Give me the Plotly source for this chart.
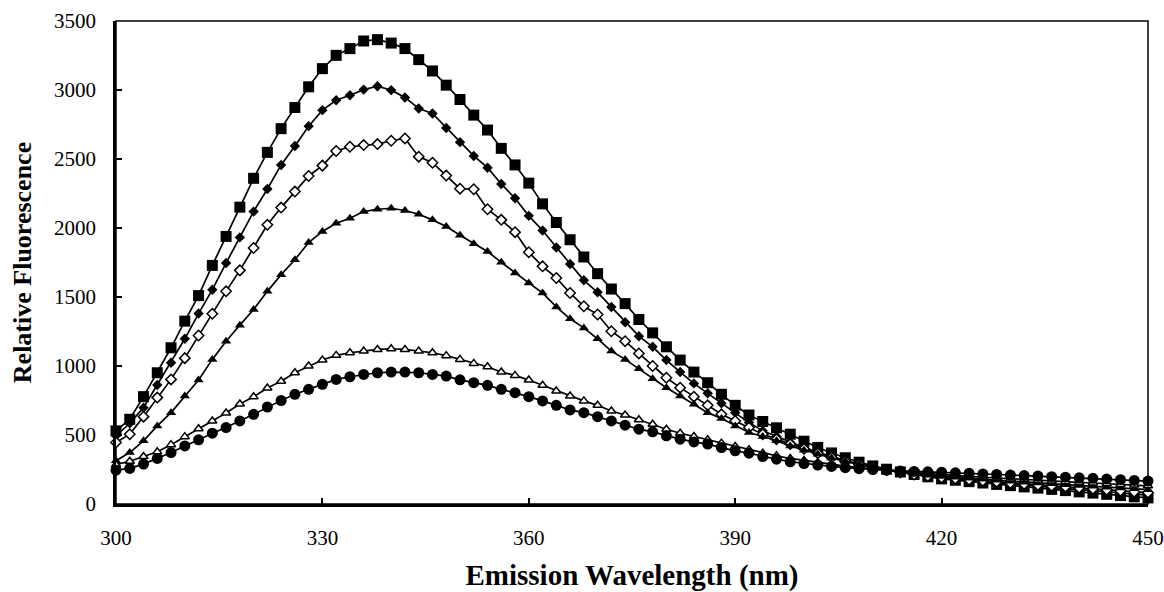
import plotly.graph_objects as go

wavelength = list(range(300, 451, 2))

filled_square = [530, 614, 778, 951, 1132, 1325, 1510, 1729, 1939, 2151, 2360, 2548, 2720, 2873, 3023, 3155,
                 3251, 3300, 3355, 3365, 3340, 3300, 3220, 3138, 3035, 2931, 2818, 2710, 2577, 2457, 2325, 2175,
                 2040, 1915, 1790, 1669, 1558, 1452, 1337, 1240, 1139, 1043, 956, 879, 795, 715, 645, 598,
                 552, 506, 455, 410, 370, 335, 303, 276, 252, 232, 214, 197, 182, 172, 162, 152,
                 142, 133, 124, 115, 106, 97, 88, 79, 70, 61, 52, 44]
filled_diamond = [494, 585, 698, 862, 1024, 1197, 1380, 1553, 1746, 1932, 2119, 2283, 2457, 2594, 2738, 2854,
                  2926, 2962, 3003, 3027, 2999, 2946, 2866, 2830, 2725, 2622, 2522, 2437, 2319, 2216, 2088, 1982,
                  1859, 1739, 1621, 1534, 1428, 1317, 1216, 1139, 1043, 956, 874, 802, 730, 662, 590, 530,
                  489, 446, 410, 375, 343, 315, 290, 268, 248, 231, 215, 201, 188, 179, 170, 161,
                  152, 144, 136, 128, 120, 112, 104, 96, 88, 80, 72, 64]
open_diamond = [446, 506, 633, 771, 903, 1057, 1221, 1378, 1541, 1693, 1855, 2023, 2148, 2264, 2377, 2452,
                2558, 2589, 2601, 2608, 2632, 2649, 2517, 2473, 2380, 2285, 2281, 2136, 2059, 1970, 1824, 1722,
                1638, 1529, 1433, 1373, 1252, 1180, 1091, 1000, 915, 843, 778, 715, 650, 602, 554, 506,
                470, 434, 400, 367, 337, 310, 286, 265, 246, 229, 214, 202, 192, 184, 176, 168,
                160, 152, 145, 138, 131, 124, 117, 110, 103, 96, 89, 82]
filled_triangle = [313, 373, 458, 566, 662, 783, 898, 1048, 1180, 1296, 1409, 1541, 1662, 1770, 1895, 1975,
                   2035, 2071, 2119, 2136, 2143, 2127, 2100, 2059, 2011, 1948, 1886, 1830, 1751, 1674, 1602, 1529,
                   1428, 1342, 1276, 1197, 1108, 1048, 980, 908, 843, 783, 723, 662, 619, 566, 518, 489,
                   458, 421, 390, 360, 333, 309, 287, 267, 249, 233, 219, 209, 200, 193, 186, 179,
                   172, 165, 158, 152, 146, 140, 134, 128, 122, 116, 110, 104]
open_triangle = [285, 310, 344, 378, 430, 488, 545, 602, 660, 725, 777, 840, 890, 951, 1000, 1043,
                 1077, 1096, 1108, 1120, 1125, 1120, 1108, 1096, 1075, 1048, 1019, 995, 956, 932, 898, 860,
                 819, 783, 747, 715, 674, 645, 610, 578, 542, 513, 489, 465, 441, 417, 393, 368,
                 349, 330, 315, 300, 287, 275, 264, 253, 244, 235, 227, 219, 212, 206, 200, 194,
                 188, 182, 177, 172, 167, 162, 157, 152, 147, 142, 137, 132]
filled_circle = [245, 258, 289, 330, 373, 421, 465, 513, 554, 602, 650, 703, 750, 795, 831, 867,
                 903, 922, 939, 951, 956, 956, 951, 939, 927, 900, 879, 860, 831, 807, 778, 747,
                 715, 682, 662, 633, 602, 571, 542, 523, 494, 470, 450, 434, 409, 385, 368, 344,
                 325, 306, 293, 282, 272, 263, 256, 250, 245, 240, 236, 233, 230, 226, 222, 218,
                 214, 210, 206, 202, 198, 194, 190, 186, 181, 176, 171, 166]

x_ticks = [300, 330, 360, 390, 420, 450]
y_ticks = [0, 500, 1000, 1500, 2000, 2500, 3000, 3500]

series = [
    ("square", filled_square, "square", 11, "black"),
    ("diamond", filled_diamond, "diamond", 8, "black"),
    ("open diamond", open_diamond, "diamond", 8, "white"),
    ("triangle", filled_triangle, "triangle-up", 9, "black"),
    ("open triangle", open_triangle, "triangle-up", 8, "white"),
    ("circle", filled_circle, "circle", 11, "black"),
]

fig = go.Figure()
for name, vals, sym, size, fill in series:
    fig.add_trace(go.Scatter(
        x=wavelength, y=vals, name=name, mode="lines+markers",
        line=dict(color="black", width=1.7),
        marker=dict(symbol=sym, size=size, color=fill,
                    line=dict(color="black", width=1.5 if fill == "white" else 0)),
        cliponaxis=False, showlegend=False,
    ))

tick_font = dict(family="Liberation Serif", size=21, color="black")

fig.update_xaxes(
    range=[300, 450], tickvals=x_ticks, ticks="inside", ticklen=6, tickwidth=2,
    tickcolor="black", showline=True, linewidth=2.5, linecolor="black", automargin=False,
    showgrid=False, zeroline=False, tickfont=tick_font, ticklabelstandoff=13,
    title=dict(text="<b>Emission Wavelength (nm)</b>",
               font=dict(family="Liberation Serif", size=29, color="black"), standoff=22),
)
fig.update_yaxes(
    range=[0, 3500], tickvals=y_ticks, ticks="inside", ticklen=6, tickwidth=2,
    tickcolor="black", showline=True, linewidth=2.5, linecolor="black", automargin=False,
    showgrid=False, zeroline=False, tickfont=tick_font, ticklabelstandoff=13,
    title=dict(text="<b>Relative Fluorescence</b>",
               font=dict(family="Liberation Serif", size=26, color="black"), standoff=15),
)

fig.add_shape(type="rect", xref="paper", yref="paper", x0=0, y0=0, x1=1, y1=1,
              line=dict(color="black", width=1.5), layer="below")

fig.update_layout(
    width=1164, height=592, margin=dict(l=116, r=16, t=21, b=88),
    paper_bgcolor="white", plot_bgcolor="white",
)

fig.write_html("out.html")
